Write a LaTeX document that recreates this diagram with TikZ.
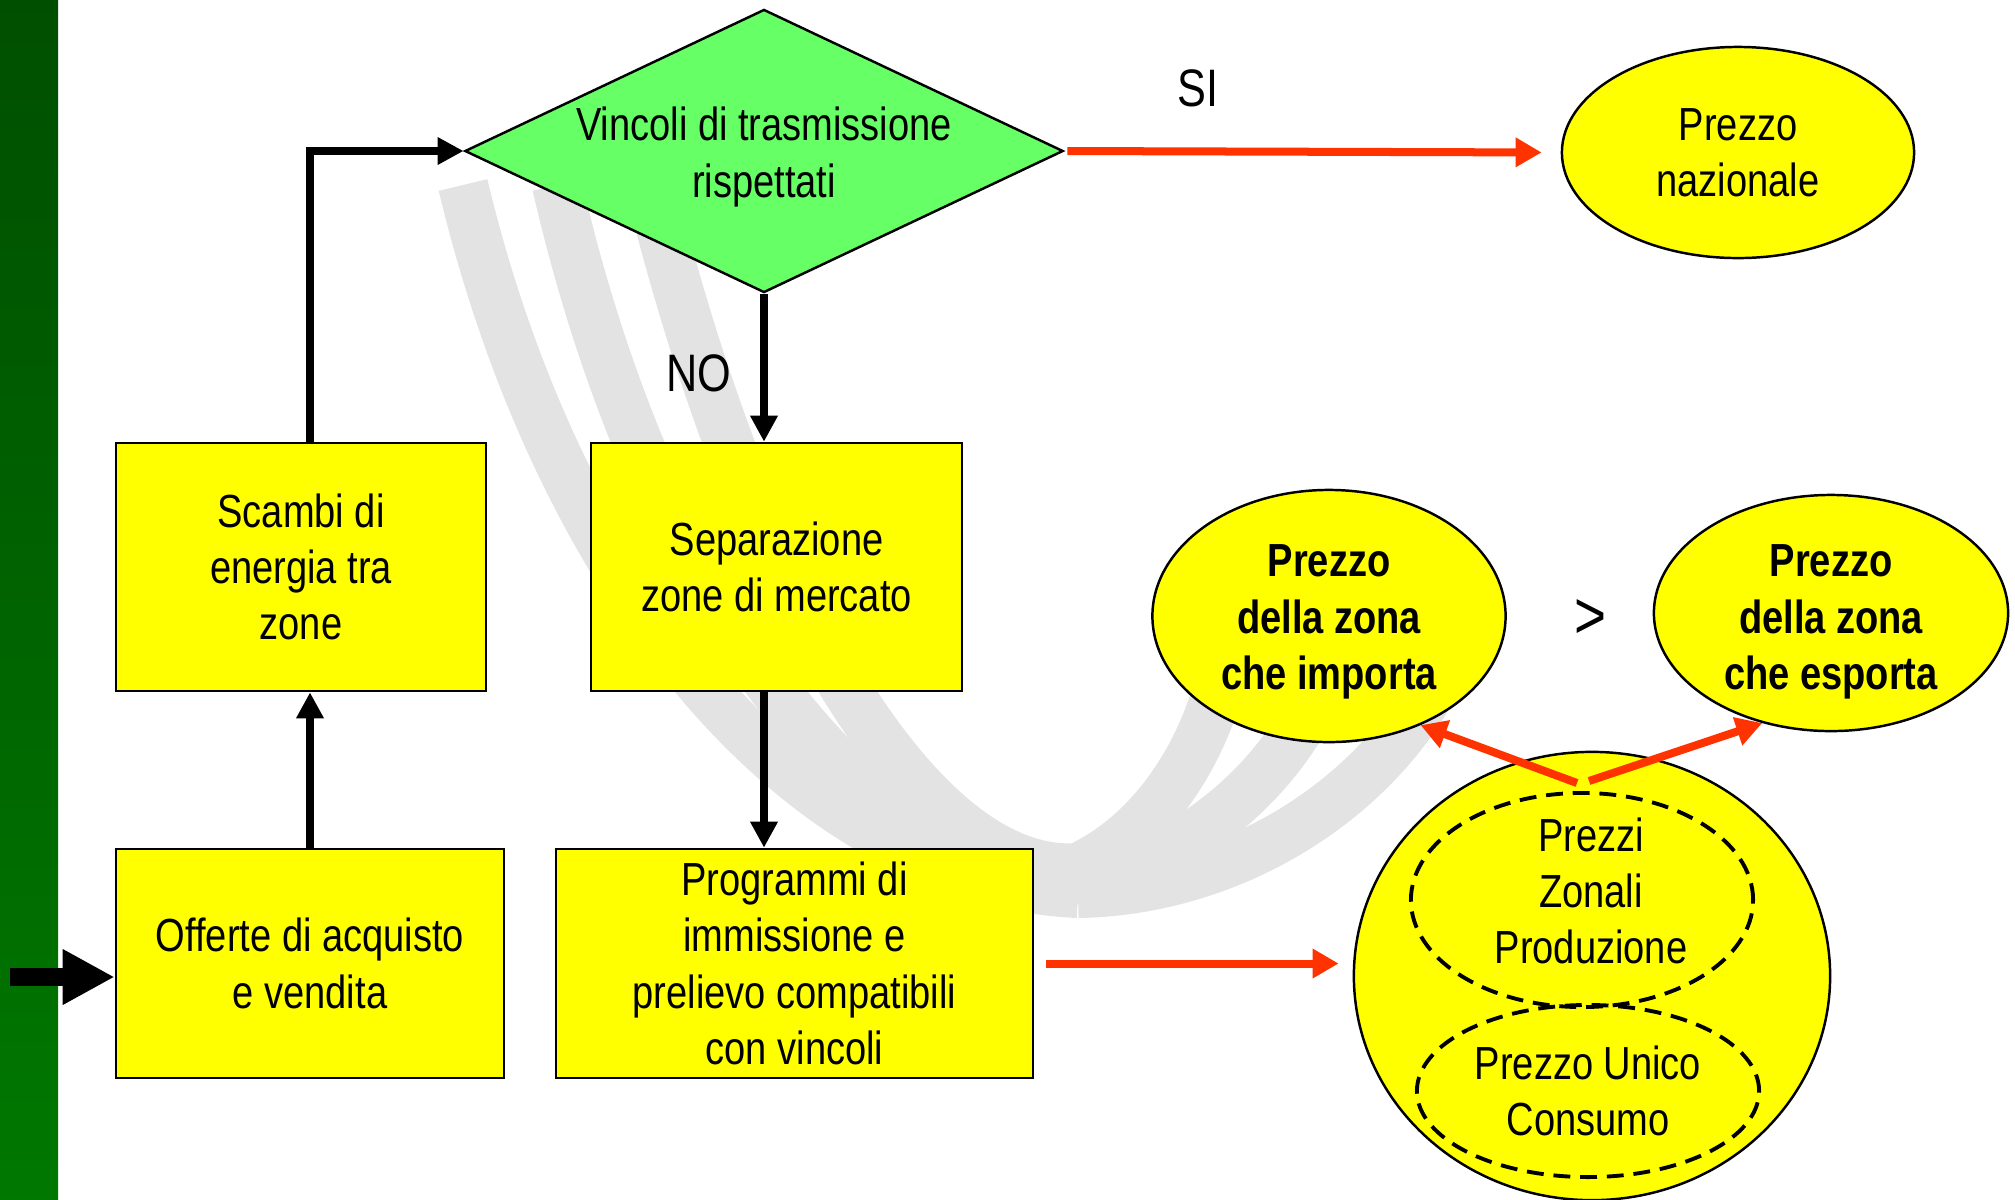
\documentclass[tikz,border=0pt]{standalone}
\usepackage{fontspec}
\setmainfont{Liberation Sans}[FakeStretch=0.82]
\usepackage{tikz}
\usetikzlibrary{shapes.geometric,arrows.meta}
\definecolor{dgreen}{rgb}{0,0.31,0}
\definecolor{lgreen}{rgb}{0,0.47,0}
\definecolor{verde}{rgb}{0.4,1,0.4}
\definecolor{giallo}{rgb}{1,1,0}
\definecolor{rosso}{rgb}{1,0.2,0}
\definecolor{filigrana}{rgb}{0.89,0.89,0.89}
\newcommand{\testo}{\fontsize{13.2}{16}\selectfont}
\tikzset{
  box/.style={draw,fill=giallo,line width=0.7pt,inner sep=0pt,align=center,font=\testo},
  prezzo/.style={draw,ellipse,fill=giallo,line width=0.7pt,inner sep=0pt,align=center,font=\testo},
  zona/.style={draw,ellipse,line width=1.1pt,dash pattern=on 4.8pt off 2.8pt,inner sep=0pt,align=center,font=\testo},
  scritta/.style={font=\testo,align=center,inner sep=0pt},
  freccia/.style={line width=0.075cm,-{Triangle[length=0.26cm,width=0.26cm]}},
  grossa/.style={line width=0.18cm,-{Triangle[length=0.52cm,width=0.52cm]}},
  rossa/.style={rosso,line width=0.08cm,-{Triangle[length=0.26cm,width=0.28cm]}},
  logo/.style={filigrana,line width=0.5cm}
}

\begin{document}
\begin{tikzpicture}[x=0.01cm,y=-0.01cm]
\useasboundingbox (0,0) rectangle (2015,1199);
\foreach \xa/\xb/\xc/\yc in {463/560/800/893,557/650/860/880,650/750/920/868} {
    \draw[logo] (\xa,185) .. controls (\xb,590) and (\xc,880) .. (1078,\yc);
}
\draw[logo] (1078,893) .. controls (1250,890) and (1400,780) .. (1450,650);
\draw[logo] (1078,880) .. controls (1200,860) and (1300,760) .. (1330,660);
\draw[logo] (1078,868) .. controls (1160,830) and (1210,740) .. (1225,660);
\shade[top color=dgreen,bottom color=lgreen] (0,0) rectangle (58,1199);

\node[draw,diamond,fill=verde,line width=0.7pt,minimum width=5.98cm,minimum height=2.83cm,inner sep=0pt,
  label={[name=vincolitesto,scritta,yshift=-0.06cm]center:Vincoli di trasmissione\\rispettati}] (vincoli) at (764,151) {};
\node[box,minimum width=3.70cm,minimum height=2.48cm] (scambi) at (301,567) {Scambi di\\energia tra\\zone};
\node[box,minimum width=3.71cm,minimum height=2.48cm] (separa) at (776.5,567) {Separazione\\zone di mercato};
\node[box,minimum width=3.88cm,minimum height=2.29cm] (offerte) at (310,963.5) {Offerte di acquisto\\e vendita};
\node[box,minimum width=4.77cm,minimum height=2.29cm] (programmi) at (794.5,963.5) {Programmi di\\immissione e\\prelievo compatibili\\con vincoli};
\node[prezzo,minimum width=3.52cm,minimum height=2.11cm] (nazionale) at (1738,152.5) {Prezzo\\nazionale};
\node[prezzo,minimum width=3.53cm,minimum height=2.52cm,
  label={[name=importatesto,scritta,font=\testo\bfseries,yshift=-0.06cm]center:Prezzo\\della zona\\che importa}] (importa) at (1329,616) {};
\node[prezzo,minimum width=3.54cm,minimum height=2.36cm,
  label={[name=esportatesto,scritta,font=\testo\bfseries,yshift=-0.09cm]center:Prezzo\\della zona\\che esporta}] (esporta) at (1831,613) {};
\node[prezzo,minimum width=4.76cm,minimum height=4.48cm] (prezzi) at (1592,976) {};
\node[zona,minimum width=3.42cm,minimum height=2.14cm,
  label={[name=zonalitesto,scritta,xshift=0.09cm,yshift=0.09cm]center:Prezzi\\Zonali\\Produzione}] (zonali) at (1582,900) {};
\node[zona,minimum width=3.42cm,minimum height=1.72cm] (unico) at (1588,1091) {Prezzo Unico\\Consumo};
\node[font=\fontsize{15}{18}\selectfont] (si) at (1198,88) {SI};
\node[font=\fontsize{15}{18}\selectfont] (no) at (699,373) {NO};
\node[font=\fontsize{19}{22}\selectfont] (maggiore) at (1590,619) {>};

\coordinate (ingresso) at (10,977);
\coordinate (partenza1) at (1577,783);
\coordinate (partenza2) at (1589,781);
\draw[grossa] (ingresso) -- (ingresso -| offerte.west);
\draw[freccia] (offerte.north) -- (offerte.north |- scambi.south);
\draw[freccia] (offerte.north |- scambi.north) |- (vincoli.west);
\draw[freccia] (vincoli.south) -- (vincoli.south |- separa.north);
\draw[freccia] (vincoli.south |- separa.south) -- (vincoli.south |- programmi.north);
\draw[rossa,shorten <=0.03cm,shorten >=0.19cm] (vincoli.east) -- (nazionale.west);
\draw[rossa,shorten <=0.12cm,shorten >=0.14cm] (programmi.east) -- (programmi.east -| prezzi.west);
\draw[rossa] (partenza1) -- (importa.-50);
\draw[rossa] (partenza2) -- (esporta.-122);
\end{tikzpicture}
\end{document}
